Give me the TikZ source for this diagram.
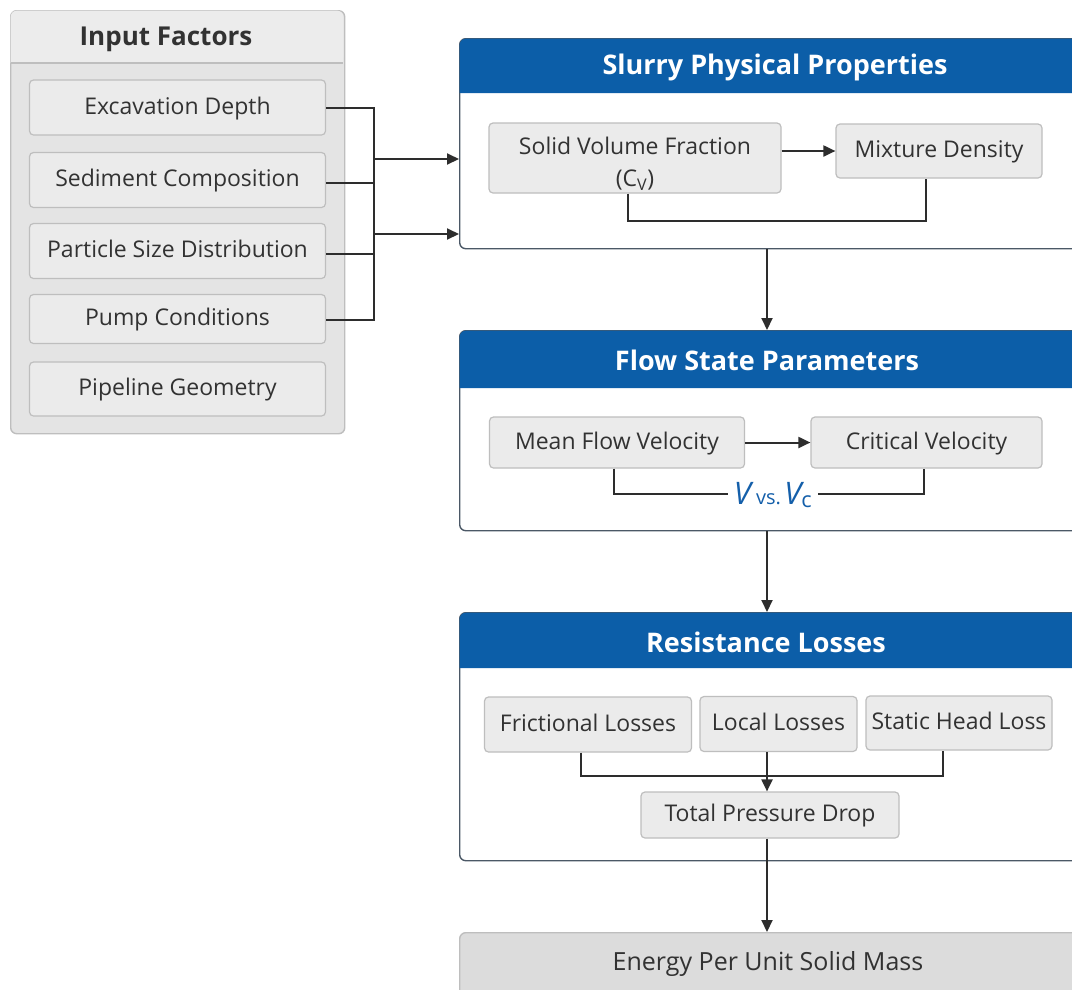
\documentclass[tikz,border=0pt]{standalone}
\usepackage{fontspec}
\setmainfont{Open Sans}
\usetikzlibrary{arrows.meta}
\definecolor{hdrblue}{RGB}{12,94,168}
\definecolor{boxfill}{RGB}{235,235,235}
\definecolor{boxline}{RGB}{190,190,190}
\definecolor{outerfill}{RGB}{228,228,228}
\definecolor{outerhdr}{RGB}{236,236,236}
\definecolor{contline}{RGB}{75,88,102}
\definecolor{lncol}{RGB}{45,45,45}
\definecolor{txtcol}{RGB}{50,50,50}
\definecolor{lblblue}{RGB}{20,95,170}
\definecolor{energyfill}{RGB}{220,220,220}
\tikzset{
  ibox/.style={draw=boxline, fill=boxfill, line width=1.2pt, rounded corners=4pt,
    inner sep=0pt, text=txtcol, font=\fontsize{23}{31}\selectfont, align=center,
    text height=17pt, text depth=4pt},
  cont/.style={draw=contline, fill=white, line width=1.4pt, rounded corners=6pt,
    inner sep=0pt, anchor=north west},
  conn/.style={draw=lncol, line width=2pt},
  arr/.style={conn, -{Triangle[length=12pt,width=11pt]}},
  hdrtext/.style={text=white, font=\fontsize{27}{31}\selectfont\bfseries},
}
\begin{document}
\begin{tikzpicture}[x=1pt,y=-1pt]
\clip (0,0) rectangle (1072,989);
\fill[white] (0,0) rectangle (1072,989);
\coordinate (colx) at (767,0);

% ---------- Input Factors ----------
\node[draw=boxline, fill=outerfill, line width=1.4pt, rounded corners=6pt, inner sep=0pt,
  minimum width=334pt, minimum height=423pt, anchor=north west] (inp) at (10,10) {};
\fill[outerhdr, rounded corners=6pt] (10.7,63) -- (10.7,10.7) -- (343.3,10.7) -- (343.3,63) [sharp corners] -- cycle;
\fill[outerhdr] (10.7,40) rectangle (343.3,63);
\draw[boxline, line width=1.4pt] (10.7,63) -- (343.3,63);
\node[text=txtcol, font=\fontsize{26}{30}\selectfont\bfseries] (inptitle) at (166,39) {Input Factors};

\node[ibox, minimum width=296pt, minimum height=55pt] (ed) at (177.5,107.5) {Excavation Depth};
\node[ibox, minimum width=296pt, minimum height=55pt] (sc) at (177.5,180) {Sediment Composition};
\node[ibox, minimum width=296pt, minimum height=55pt] (ps) at (177.5,251) {Particle Size Distribution};
\node[ibox, minimum width=296pt, minimum height=49pt] (pc) at (177.5,319) {Pump Conditions};
\node[ibox, minimum width=296pt, minimum height=54pt] (pg) at (177.5,389) {Pipeline Geometry};

% ---------- Slurry Physical Properties ----------
\node[cont, minimum width=631pt, minimum height=210pt] (slurry) at (459,38) {};
\fill[hdrblue, rounded corners=6pt] (459.7,93) -- (459.7,38.7) -- (1090,38.7) -- (1090,93) [sharp corners] -- cycle;
\fill[hdrblue] (459.7,60) rectangle (1090,93);
\node[hdrtext] (slurrytitle) at (775,67) {Slurry Physical Properties};
\node[ibox, minimum width=292pt, minimum height=70pt] (svf) at (635,158) {};
\node[text=txtcol, font=\fontsize{23}{32}\selectfont, align=center] (svftext) at (635,164)
  {Solid Volume Fraction\\(C\textsubscript{V})};
\node[ibox, minimum width=206pt, minimum height=54pt] (md) at (939,151) {Mixture Density};

% ---------- Flow State Parameters ----------
\node[cont, minimum width=631pt, minimum height=200pt] (flow) at (459,330) {};
\fill[hdrblue, rounded corners=6pt] (459.7,388) -- (459.7,330.7) -- (1090,330.7) -- (1090,388) [sharp corners] -- cycle;
\fill[hdrblue] (459.7,350) rectangle (1090,388);
\node[hdrtext] (flowtitle) at (767,360) {Flow State Parameters};
\node[ibox, minimum width=255pt, minimum height=51pt] (mfv) at (617,442.5) {Mean Flow Velocity};
\node[ibox, minimum width=231pt, minimum height=51pt] (cv) at (926.5,442.5) {Critical Velocity};

% ---------- Resistance Losses ----------
\node[cont, minimum width=631pt, minimum height=248pt] (res) at (459,612) {};
\fill[hdrblue, rounded corners=6pt] (459.7,668) -- (459.7,612.7) -- (1090,612.7) -- (1090,668) [sharp corners] -- cycle;
\fill[hdrblue] (459.7,630) rectangle (1090,668);
\node[hdrtext] (restitle) at (766,642) {Resistance Losses};
\node[ibox, minimum width=207pt, minimum height=55pt] (fl) at (588,724.5) {Frictional Losses};
\node[ibox, minimum width=157pt, minimum height=55pt] (ll) at (778.5,724) {Local Losses};
\node[ibox, minimum width=186pt, minimum height=54pt] (sh) at (959,723) {Static Head Loss};
\node[ibox, minimum width=258pt, minimum height=46pt] (tpd) at (770,815) {Total Pressure Drop};

% ---------- Energy ----------
\node[draw=boxline, fill=energyfill, line width=1.4pt, rounded corners=6pt, inner sep=0pt,
  minimum width=631pt, minimum height=80pt, anchor=north west] (energy) at (459,932) {};
\node[text=txtcol, font=\fontsize{25}{29}\selectfont] (energytext) at (768,964) {Energy Per Unit Solid Mass};

% ---------- Connectors: inputs ----------
\coordinate (bus) at (374,0);
\draw[conn] (ed.east |- 0,108) -- (bus |- 0,108) -- (bus |- 0,320) -- (pc.east |- 0,320);
\draw[conn] (sc.east |- 0,183) -- (bus |- 0,183);
\draw[conn] (ps.east |- 0,254) -- (bus |- 0,254);
\draw[arr] (bus |- 0,159) -- (slurry.west |- 0,159);
\draw[arr] (bus |- 0,234) -- (slurry.west |- 0,234);

% ---------- Slurry internal ----------
\draw[arr] (svf.east |- md.west) -- (md.west);
\coordinate (fbl) at (628,221);
\coordinate (fbr) at (926,221);
\draw[conn] (fbl |- svf.south) -- (fbl) -- (fbr) -- (fbr |- md.south);

% ---------- Between containers ----------
\draw[arr] (slurry.south -| colx) -- (flow.north -| colx);
\draw[arr] (flow.south -| colx) -- (res.north -| colx);
\draw[arr] (tpd.south -| colx) -- (energy.north -| colx);

% ---------- Flow internal ----------
\draw[arr] (mfv.east) -- (cv.west);
\coordinate (vl) at (614,494);
\coordinate (vr) at (924,494);
\draw[conn] (vl |- mfv.south) -- (vl) -- (vr) -- (vr |- cv.south);
\node[fill=white, inner xsep=6pt, inner ysep=2pt, text=lblblue] (vvc) at (773,495)
  {\fontsize{31}{33}\selectfont\itshape V\,\fontsize{20}{22}\selectfont\upshape vs.\,\fontsize{31}{33}\selectfont\itshape V\textsubscript{\upshape c}};

% ---------- Resistance internal ----------
\coordinate (jl) at (581,776);
\coordinate (jr) at (943,776);
\draw[conn] (jl |- fl.south) -- (jl) -- (jr) -- (jr |- sh.south);
\draw[arr] (ll.south -| colx) -- (tpd.north -| colx);
\end{tikzpicture}
\end{document}
